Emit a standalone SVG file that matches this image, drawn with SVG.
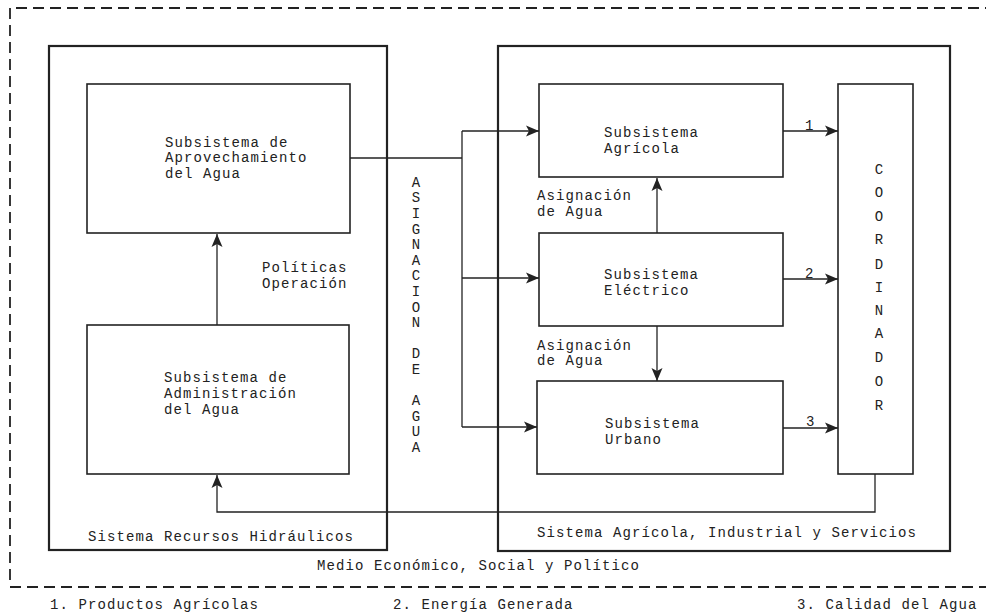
<svg xmlns="http://www.w3.org/2000/svg" width="986" height="615" viewBox="0 0 986 615">
<style>
text{font-family:"Liberation Mono","DejaVu Sans Mono",monospace;font-size:14px;fill:#222;letter-spacing:1.1px}
.sys{fill:none;stroke:#222;stroke-width:2.2}
.box{fill:none;stroke:#222;stroke-width:1.6}
.dash{fill:none;stroke:#222;stroke-width:1.8;stroke-dasharray:11 6}
.con{fill:none;stroke:#222;stroke-width:1.3}
.arr{marker-end:url(#ah)}
.v{text-anchor:middle;letter-spacing:0}
</style>
<defs>
<marker id="ah" markerUnits="userSpaceOnUse" markerWidth="14" markerHeight="12" viewBox="0 0 14 12" refX="13" refY="6" orient="auto">
<path d="M0,0.5 L13,6 L0,11.5 L3,6 Z" fill="#222"/>
</marker>
</defs>
<rect width="986" height="615" fill="#fff"/>
<g id="medio">
<path class="dash" d="M10,580 L10,8 L986,8"/>
<path class="dash" d="M10,587 L986,587"/>
<text x="317" y="570">Medio Económico, Social y Político</text>
</g>
<g id="sistema-recursos">
<rect class="sys" x="49" y="46" width="338" height="504"/>
<text x="88" y="541">Sistema Recursos Hidráulicos</text>
</g>
<g id="sistema-agricola">
<rect class="sys" x="498" y="46" width="452" height="505"/>
<text x="537" y="537">Sistema Agrícola, Industrial y Servicios</text>
</g>
<g id="aprovechamiento">
<rect class="box" x="87" y="84" width="263" height="149"/>
<text x="165" y="147">Subsistema de</text>
<text x="165" y="162">Aprovechamiento</text>
<text x="165" y="178">del Agua</text>
</g>
<g id="administracion">
<rect class="box" x="87" y="325" width="262" height="149"/>
<text x="164" y="382">Subsistema de</text>
<text x="164" y="398">Administración</text>
<text x="164" y="414">del Agua</text>
</g>
<g id="agricola">
<rect class="box" x="539" y="84" width="244" height="93"/>
<text x="604" y="137">Subsistema</text>
<text x="604" y="153">Agrícola</text>
</g>
<g id="electrico">
<rect class="box" x="539" y="233" width="244" height="93"/>
<text x="604" y="279">Subsistema</text>
<text x="604" y="295">Eléctrico</text>
</g>
<g id="urbano">
<rect class="box" x="537" y="381" width="246" height="93"/>
<text x="605" y="428">Subsistema</text>
<text x="605" y="444">Urbano</text>
</g>
<g id="coordinador">
<rect class="box" x="838" y="84" width="75" height="390"/>
<text class="v"><tspan x="879" y="174">C</tspan><tspan x="879" y="197">O</tspan><tspan x="879" y="221">O</tspan><tspan x="879" y="244">R</tspan><tspan x="879" y="269">D</tspan><tspan x="879" y="292">I</tspan><tspan x="879" y="315">N</tspan><tspan x="879" y="338">A</tspan><tspan x="879" y="362">D</tspan><tspan x="879" y="386">O</tspan><tspan x="879" y="410">R</tspan></text>
</g>
<g id="labels">
<text x="262" y="272">Políticas</text>
<text x="262" y="288">Operación</text>
<text x="537" y="200">Asignación</text>
<text x="537" y="216">de Agua</text>
<text x="537" y="350">Asignación</text>
<text x="537" y="365">de Agua</text>
<text class="v"><tspan x="416" y="187">A</tspan><tspan x="416" y="202">S</tspan><tspan x="416" y="218">I</tspan><tspan x="416" y="234">G</tspan><tspan x="416" y="249">N</tspan><tspan x="416" y="265">A</tspan><tspan x="416" y="280">C</tspan><tspan x="416" y="296">I</tspan><tspan x="416" y="312">O</tspan><tspan x="416" y="327">N</tspan><tspan x="416" y="358">D</tspan><tspan x="416" y="374">E</tspan><tspan x="416" y="405">A</tspan><tspan x="416" y="421">G</tspan><tspan x="416" y="436">U</tspan><tspan x="416" y="452">A</tspan></text>
<text x="805" y="130">1</text>
<text x="805" y="278">2</text>
<text x="806" y="426">3</text>
</g>
<g id="connectors">
<path class="con arr" d="M217,325 L217,234"/>
<path class="con" d="M350,158 L462,158"/>
<path class="con" d="M462,131 L462,427"/>
<path class="con arr" d="M462,131 L539,131"/>
<path class="con arr" d="M462,278 L539,278"/>
<path class="con arr" d="M462,427 L537,427"/>
<path class="con arr" d="M657,233 L657,178"/>
<path class="con arr" d="M657,326 L657,381"/>
<path class="con arr" d="M783,131 L838,131"/>
<path class="con arr" d="M783,279 L838,279"/>
<path class="con arr" d="M783,428 L838,428"/>
<path class="con arr" d="M875,474 L875,512 L217,512 L217,475"/>
</g>
<g id="legend">
<text x="50" y="609">1. Productos Agrícolas</text>
<text x="393" y="609">2. Energía Generada</text>
<text x="797" y="609">3. Calidad del Agua</text>
</g>
</svg>
